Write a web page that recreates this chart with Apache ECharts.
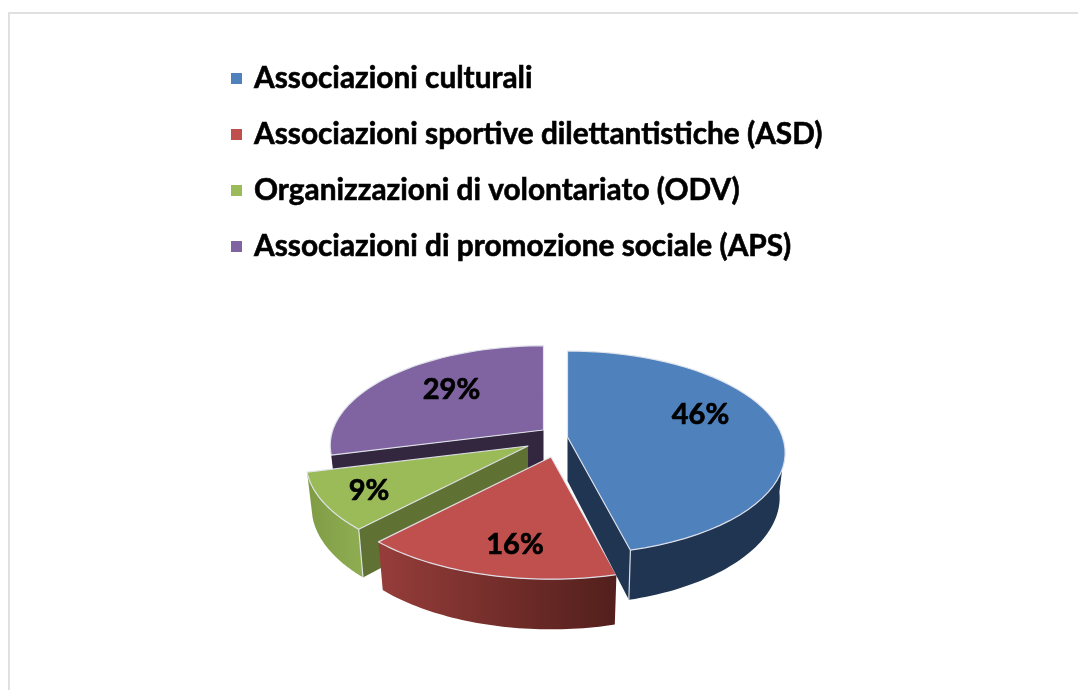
<!DOCTYPE html>
<html><head><meta charset="utf-8">
<style>html,body{margin:0;padding:0;background:#fff}#c{width:1078px;height:690px}</style>
<script src="https://cdn.jsdelivr.net/npm/echarts@6/dist/echarts.min.js"></script>
</head><body><div id="c"></div>
<script>
const categories = ['Associazioni culturali','Associazioni sportive dilettantistiche (ASD)','Organizzazioni di volontariato (ODV)','Associazioni di promozione sociale (APS)'];
const shares = [46,16,9,29];
const percentLabels = ['46%','16%','9%','29%'];
const topColors = ['#4f81bd','#c0504d','#9bbb59','#8064a2'];
const center = [554,439], radiusX = 215, radiusY = 99.3, persp = 0.155;
const explode = [[13.5,-2],[-3,18],[-26,7],[-10.5,-9]];
const sliceScale = [1,1.04,1.02,0.98];
const labelOffset = [[133,-22],[-36,88],[-159,45],[-92,-40]];
const drawOrder = [3,2,1,0];
const wallHeight = 44, bottomScaleX = 0.975, bottomScaleY = 1.05;
const FONT = '"Lato","Open Sans",sans-serif';
const edge = 'rgba(225,228,235,0.95)';
const total = shares.reduce((a,b)=>a+b,0);
function startAngle(i){let s=0;for(let k=0;k<i;k++)s+=shares[k];return s/total*360;}
function rim(deg,s){const t=deg*Math.PI/180,u=Math.sin(t),v=-Math.cos(t),w=1-persp*v;return [s*radiusX*u/w,s*radiusY*v/w];}
function grad(a,b){return {type:'linear',x:0,y:0,x2:1,y2:0,colorStops:[{offset:0,color:a},{offset:1,color:b}]};}
function makeRender(i){
  return function(){
    const s=sliceScale[i], a0=startAngle(i), a1=a0+shares[i]/total*360;
    const ax=center[0]+explode[i][0], ay=center[1]+explode[i][1];
    const T=p=>[ax+p[0],ay+p[1]];
    const B=p=>[ax+bottomScaleX*p[0],ay+wallHeight+bottomScaleY*p[1]];
    const arc=(from,to)=>{const n=48,o=[];for(let k=0;k<=n;k++)o.push(rim(from+(to-from)*k/n,s));return o;};
    const kids=[];
    const poly=(pts,fill)=>kids.push({type:'polygon',shape:{points:pts},style:{fill:fill,stroke:null},silent:true});
    const line=(pts)=>kids.push({type:'polyline',shape:{points:pts},style:{fill:null,stroke:edge,lineWidth:1.2},silent:true});
    const outerWall=(from,to,fill)=>{const r=arc(from,to);poly(r.map(T).concat(r.slice().reverse().map(B)),fill);};
    const cutWall=(deg,fill)=>{const p=rim(deg,s);poly([T([0,0]),T(p),B(p),B([0,0])],fill);};
    if(i===0){
      outerWall(96,a1,'#1f3552');
      cutWall(a1,'#1f3552');
      const p=rim(a1,s);line([T(p),B(p)]);
    }else if(i===1){
      outerWall(a0,a1,grad('#963d3a','#521f1c'));
    }else if(i===2){
      outerWall(a0,a1,grad('#7f9c45','#8fae52'));
      cutWall(a0,'#607233');
      const p=rim(a0,s);line([T(p),B(p)]);
    }else{
      cutWall(a0,'#33273f');
    }
    const top=arc(a0,a1).map(T);
    const ring=[T([0,0])].concat(top);
    kids.push({type:'polygon',shape:{points:ring},style:{fill:topColors[i],stroke:edge,lineWidth:1.2,lineJoin:'round'},silent:true});
    kids.push({type:'text',silent:true,style:{text:percentLabels[i],x:ax+labelOffset[i][0],y:ay+labelOffset[i][1],align:'center',verticalAlign:'middle',fill:'#000',stroke:'#000',lineWidth:0.7,font:'bold 29px '+FONT}});
    return {type:'group',children:kids};
  };
}
const chart=echarts.init(document.getElementById('c'),null,{renderer:'canvas'});
chart.setOption({
  animation:false,
  backgroundColor:'#fff',
  legend:{
    show:true,orient:'vertical',left:226,top:56,itemWidth:11,itemHeight:11,itemGap:21,icon:'rect',
    data:categories,selectedMode:false,
    textStyle:{fontFamily:FONT,fontWeight:'bold',fontSize:29.8,color:'#000',textBorderColor:'#000',textBorderWidth:0.6,padding:[0,0,0,7],lineHeight:35}
  },
  graphic:[
    {type:'polyline',shape:{points:[[9,690],[9,13],[1078,13]]},style:{fill:null,stroke:'#e0e0e0',lineWidth:2},silent:true}
  ],
  series:drawOrder.map(i=>({
    type:'custom',name:categories[i],coordinateSystem:'none',
    itemStyle:{color:topColors[i]},
    data:[[shares[i]]],renderItem:makeRender(i),silent:true
  }))
});
</script></body></html>
